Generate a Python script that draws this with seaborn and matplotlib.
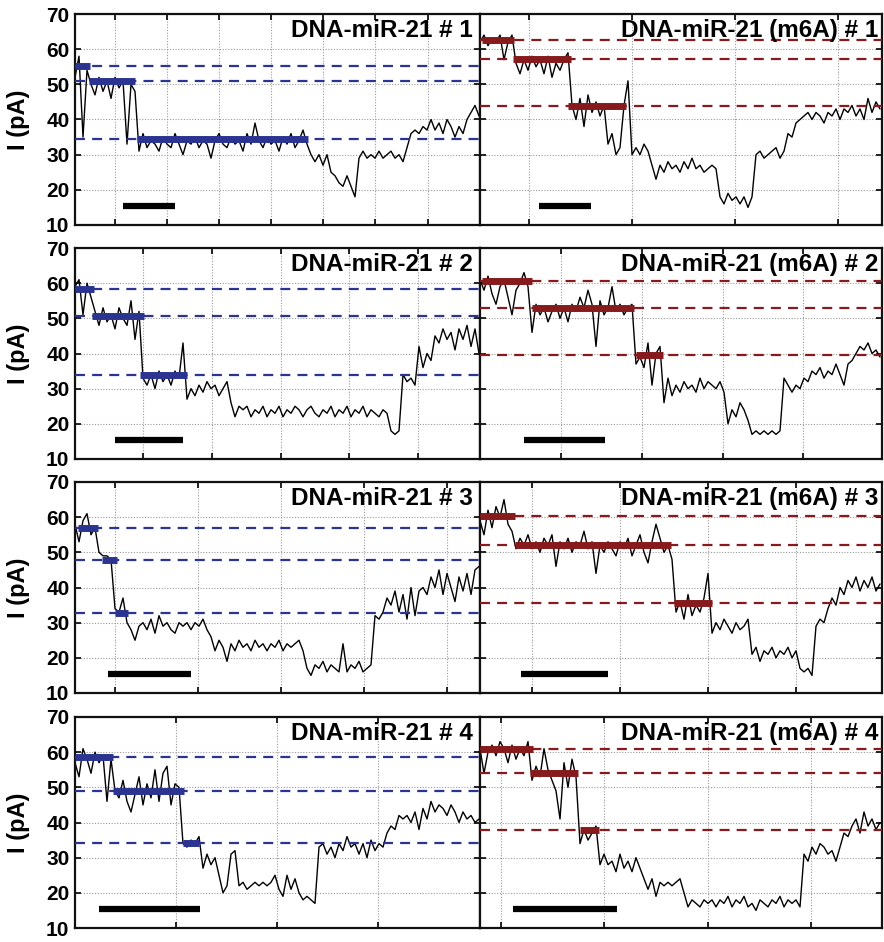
import numpy as np
import matplotlib
matplotlib.use("Agg")
import matplotlib.pyplot as plt
import seaborn as sns

# current traces (pA), sampled every 4 time units from the left edge of each panel
trace_l1 = [52, 58, 35, 54, 50, 47, 52, 48, 51, 46, 52, 49, 51, 33, 50, 48, 31, 36, 32,
            34, 33, 31, 35, 33, 32, 36, 33, 30, 34, 33, 35, 32, 34, 33, 29, 34, 36, 33, 32,
            35, 33, 34, 31, 36, 33, 39, 34, 32, 35, 33, 34, 31, 35, 33, 36, 32, 34, 37, 33,
            30, 28, 30, 27, 30, 25, 24, 22, 21, 24, 21, 18, 29, 31, 29, 30, 29, 31, 29, 30,
            31, 29, 30, 28, 32, 36, 37, 36, 38, 37, 40, 37, 39, 36, 40, 38, 35, 38, 36, 40,
            42, 44, 41]
trace_r1 = [62, 64, 61, 63, 62, 64, 57, 62, 64, 56, 53, 57, 54, 58, 55, 57, 53, 58, 52,
            56, 54, 57, 59, 44, 40, 46, 38, 47, 42, 45, 41, 44, 33, 36, 30, 32, 44, 51, 30,
            32, 30, 33, 31, 27, 23, 27, 25, 28, 26, 27, 25, 28, 26, 29, 26, 27, 25, 26, 27,
            26, 18, 16, 19, 17, 18, 16, 18, 15, 18, 30, 31, 29, 30, 31, 32, 29, 31, 36, 35,
            39, 40, 41, 42, 40, 42, 41, 39, 42, 41, 43, 40, 43, 42, 44, 41, 43, 40, 46, 42,
            45, 43]
trace_l2 = [59, 61, 51, 60, 56, 52, 48, 53, 49, 51, 47, 53, 50, 48, 55, 44, 52, 33, 31,
            34, 30, 35, 32, 34, 31, 35, 33, 43, 27, 30, 28, 31, 29, 32, 30, 31, 28, 30, 32,
            26, 22, 25, 24, 25, 22, 24, 23, 25, 22, 24, 23, 25, 22, 24, 23, 25, 24, 22, 24,
            25, 23, 22, 24, 23, 25, 22, 24, 23, 25, 22, 24, 23, 25, 22, 24, 23, 22, 24, 23,
            18, 17, 18, 34, 32, 33, 31, 42, 36, 40, 38, 45, 43, 47, 44, 46, 41, 47, 44, 48,
            42, 47, 40]
trace_r2 = [61, 58, 62, 57, 54, 59, 61, 56, 51, 58, 60, 63, 59, 46, 54, 51, 53, 49, 52,
            54, 50, 53, 49, 54, 52, 56, 53, 58, 54, 42, 55, 51, 53, 59, 52, 54, 51, 53, 54,
            37, 39, 36, 43, 31, 40, 42, 26, 33, 28, 31, 29, 32, 30, 31, 29, 33, 30, 32, 31,
            30, 32, 29, 20, 24, 22, 26, 24, 21, 17, 18, 17, 18, 17, 18, 17, 18, 33, 31, 29,
            31, 30, 33, 32, 35, 34, 36, 33, 35, 34, 37, 34, 31, 37, 38, 40, 42, 41, 43, 40,
            41, 39]
trace_l3 = [58, 53, 59, 61, 55, 57, 50, 49, 49, 48, 34, 33, 37, 30, 28, 25, 29, 30, 28,
            31, 27, 32, 29, 30, 28, 27, 30, 29, 30, 28, 30, 29, 31, 28, 26, 22, 25, 23, 19,
            24, 22, 25, 23, 24, 22, 25, 23, 24, 22, 24, 23, 25, 22, 24, 23, 24, 25, 22, 17,
            15, 18, 17, 19, 16, 18, 17, 16, 24, 16, 18, 17, 19, 16, 17, 18, 32, 31, 33, 37,
            35, 39, 33, 38, 31, 40, 32, 39, 40, 38, 43, 40, 45, 38, 44, 40, 36, 43, 39, 44,
            38, 45, 46]
trace_r3 = [59, 55, 62, 57, 63, 60, 65, 58, 56, 51, 54, 52, 55, 51, 53, 50, 54, 52, 55,
            46, 53, 51, 54, 50, 53, 52, 56, 51, 53, 44, 52, 50, 53, 51, 49, 53, 51, 54, 49,
            52, 55, 50, 47, 53, 58, 54, 50, 52, 48, 33, 36, 31, 38, 32, 35, 33, 37, 44, 27,
            30, 28, 31, 29, 27, 30, 28, 29, 31, 21, 23, 19, 22, 21, 23, 20, 22, 21, 23, 20,
            22, 17, 16, 17, 15, 29, 31, 30, 34, 37, 35, 40, 38, 42, 40, 43, 39, 42, 40, 43,
            39, 41]
trace_l4 = [57, 53, 61, 58, 54, 60, 57, 59, 46, 58, 49, 47, 52, 46, 43, 48, 53, 45, 51,
            47, 55, 46, 54, 56, 45, 51, 50, 34, 33, 35, 34, 36, 27, 31, 28, 30, 25, 20, 22,
            31, 32, 22, 23, 21, 22, 23, 22, 23, 22, 23, 25, 21, 19, 25, 21, 24, 20, 18, 19,
            18, 17, 33, 34, 31, 33, 30, 34, 32, 36, 33, 34, 31, 34, 30, 35, 32, 34, 33, 37,
            39, 38, 42, 41, 42, 40, 43, 38, 44, 41, 46, 43, 45, 44, 42, 45, 43, 40, 43, 41,
            42, 40, 41]
trace_r4 = [61, 54, 60, 62, 59, 63, 61, 57, 62, 58, 61, 59, 63, 52, 56, 53, 61, 55, 52,
            49, 41, 57, 50, 58, 53, 34, 38, 35, 37, 39, 28, 31, 28, 29, 26, 31, 27, 29, 26,
            30, 27, 24, 21, 24, 19, 23, 22, 23, 22, 23, 24, 20, 16, 18, 17, 16, 18, 17, 18,
            16, 18, 17, 19, 16, 18, 17, 19, 16, 17, 15, 18, 17, 16, 18, 17, 19, 16, 18, 17,
            18, 16, 31, 29, 33, 31, 34, 33, 31, 32, 29, 33, 37, 36, 39, 41, 37, 43, 39, 41,
            38, 40]

# fitted blockade levels: (start, end, level in pA)
steps_l1 = [(0, 15, 55.3), (14, 60, 51.0), (62, 233, 34.5)]
steps_r1 = [(2, 34, 62.7), (33, 91, 57.2), (88, 146, 43.8)]
steps_l2 = [(0, 19, 58.2), (17, 69, 50.7), (65, 112, 33.8)]
steps_r2 = [(2, 52, 60.7), (52, 154, 52.9), (156, 183, 39.5)]
steps_l3 = [(3, 23, 57.0), (27, 42, 47.8), (40, 53, 32.8)]
steps_r3 = [(0, 35, 60.3), (35, 191, 52.2), (194, 232, 35.5)]
steps_l4 = [(0, 38, 58.7), (38, 109, 48.9), (108, 124, 34.2)]
steps_r4 = [(0, 53, 61.0), (50, 98, 54.0), (100, 119, 37.8)]

# time grid (x ticks) and scale bar for each panel
grid_l1 = [40, 92, 144, 196, 248, 300, 353]
grid_r1 = [49, 152, 255, 358]
grid_l2 = [68, 137, 206, 274, 343]
grid_r2 = [81, 162, 243, 323]
grid_l3 = [40, 123, 206, 289, 372]
grid_r3 = [52, 140, 228, 316]
grid_l4 = [101, 202, 303]
grid_r4 = [21, 124, 228, 331]

bar_l1, bar_r1 = (48, 100), (59, 111)
bar_l2, bar_r2 = (40, 108), (44, 125)
bar_l3, bar_r3 = (33, 116), (41, 128)
bar_l4, bar_r4 = (24, 125), (33, 137)

titles_l = ["DNA-miR-21 # 1", "DNA-miR-21 # 2", "DNA-miR-21 # 3", "DNA-miR-21 # 4"]
titles_r = ["DNA-miR-21 (m6A) # 1", "DNA-miR-21 (m6A) # 2",
            "DNA-miR-21 (m6A) # 3", "DNA-miR-21 (m6A) # 4"]
yticks = [10, 20, 30, 40, 50, 60, 70]

BLUE = "#2b3591"
RED = "#861a1c"

sns.set_style("ticks")
plt.rcParams["font.family"] = ["Liberation Sans", "DejaVu Sans"]
plt.rcParams["font.weight"] = "bold"
plt.rcParams["text.color"] = "black"
plt.rcParams["axes.labelcolor"] = "black"
plt.rcParams["xtick.color"] = "black"
plt.rcParams["ytick.color"] = "black"

fig = plt.figure(figsize=(8.84, 9.42), dpi=100)
W, H = 884, 942

rows = [(14, 225), (248, 459), (482, 693), (717, 928)]
cols = [(75, 480), (480, 882)]

panels = [
    [(trace_l1, steps_l1, grid_l1, bar_l1), (trace_r1, steps_r1, grid_r1, bar_r1)],
    [(trace_l2, steps_l2, grid_l2, bar_l2), (trace_r2, steps_r2, grid_r2, bar_r2)],
    [(trace_l3, steps_l3, grid_l3, bar_l3), (trace_r3, steps_r3, grid_r3, bar_r3)],
    [(trace_l4, steps_l4, grid_l4, bar_l4), (trace_r4, steps_r4, grid_r4, bar_r4)],
]

for r, (top, bot) in enumerate(rows):
    for c, (x0, x1) in enumerate(cols):
        ax = fig.add_axes([x0 / W, 1 - bot / H, (x1 - x0) / W, (bot - top) / H])
        trace, steps, grid, bar = panels[r][c]
        color = BLUE if c == 0 else RED
        t = np.arange(len(trace)) * 4

        sns.lineplot(x=t, y=trace, ax=ax, color="black", lw=1.0, zorder=2)
        for s0, s1, lev in steps:
            ax.axhline(lev, color=color, lw=1.6, ls=(0, (4.5, 3.2)), zorder=3)
        for s0, s1, lev in steps:
            ax.plot([s0, s1], [lev, lev], color=color, lw=5, solid_capstyle="butt", zorder=4)
        ax.plot(list(bar), [15.4, 15.4], color="black", lw=4.5, solid_capstyle="butt", zorder=4)

        ax.set_xlim(0, x1 - x0)
        ax.set_ylim(10, 70)
        ax.set_xticks(grid)
        ax.set_yticks(yticks)
        ax.grid(True, ls=(0, (1, 1.5)), color="#9a9a9a", lw=0.8, zorder=0)
        ax.tick_params(direction="in", length=4, width=1.2, top=True, right=True,
                       labelbottom=False, labelsize=15, pad=4)
        for sp in ax.spines.values():
            sp.set_linewidth(1.6)
            sp.set_color("#111111")
        if c == 0:
            ax.set_ylabel("I (pA)", fontsize=17, fontweight="bold")
            ax.yaxis.set_label_coords(-0.11, 0.5)
            for lab in ax.get_yticklabels():
                lab.set_fontweight("bold")
            title = titles_l[r]
            tx = 0.983
        else:
            ax.set_ylabel("")
            ax.tick_params(labelleft=False)
            title = titles_r[r]
            tx = 0.99
        ax.set_xlabel("")
        ax.text(tx, 0.975, title, transform=ax.transAxes, ha="right", va="top",
                fontsize=17.5, fontweight="bold", zorder=5)

fig.savefig("out.png", dpi=100)
